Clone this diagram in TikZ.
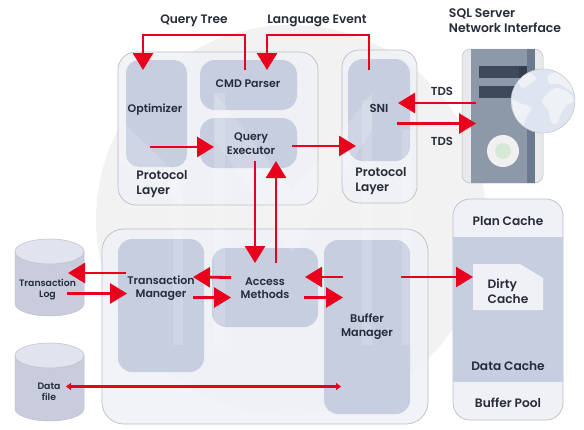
\documentclass[tikz,border=0pt]{standalone}
\usepackage{fontspec}
\setmainfont{Poppins SemiBold}
\usetikzlibrary{arrows.meta}
\definecolor{blk}{HTML}{262C3A}
\definecolor{bluebox}{HTML}{C7CEE0}
\definecolor{panelc}{HTML}{EFF1F6}
\definecolor{edgec}{HTML}{BDBEC3}
\definecolor{redc}{HTML}{E8001C}
\definecolor{srvbody}{HTML}{8D98A8}
\definecolor{srvstrip}{HTML}{6B7B8F}
\definecolor{srvbar}{HTML}{3D4A5C}
\definecolor{srvbard}{HTML}{333F50}
\definecolor{srvside}{HTML}{E8E9EB}
\definecolor{globec}{HTML}{DEE5F0}
\definecolor{landc}{HTML}{EEF1F6}
\definecolor{cyltop}{HTML}{E1E4EE}
\definecolor{cylbody}{HTML}{C8CCDD}
\tikzset{
 x=1pt,y=-1pt,
 panel/.style={draw=edgec,line width=.7pt,fill=panelc,fill opacity=.85,inner sep=0pt},
 boxn/.style={fill=bluebox,inner sep=0pt,text=blk},
 txt/.style={text=blk,font=\fontsize{12.2}{15}\selectfont,align=center,inner sep=0pt},
 txts/.style={text=blk,font=\fontsize{11}{13.5}\selectfont,align=center,inner sep=0pt},
 txtc/.style={text=blk,font=\fontsize{9.3}{11.5}\selectfont,align=center,inner sep=0pt},
 txtl/.style={text=blk,font=\fontsize{12.2}{15}\selectfont,align=left,inner sep=0pt},
 arr/.style={draw=redc,line width=2.8pt,-{Triangle[length=17pt,width=20pt,fill=redc]}},
 arrd/.style={draw=redc,line width=2.6pt,{Triangle[length=5pt,width=7pt,fill=redc]}-{Triangle[length=5pt,width=7pt,fill=redc]}},
}
\begin{document}
\begin{tikzpicture}
\useasboundingbox (0,0) rectangle (584,429);
\fill[white] (0,0) rectangle (584,429);
% background disc
\fill[fill=black!5] (291,220) circle[radius=195];
% panels
\node[panel,rounded corners=18pt,minimum width=200pt,minimum height=153pt] (p1) at (218,128.5) {};
\node[panel,rounded corners=17pt,minimum width=75pt,minimum height=153pt] (p2) at (379.5,126.5) {};
\node[panel,rounded corners=22pt,minimum width=326pt,minimum height=195pt] (p3) at (265,326.5) {};
% upper boxes
\node[boxn,rounded corners=13pt,minimum width=61pt,minimum height=107pt] (opt) at (156.5,113.5) {};
\node[boxn,rounded corners=15pt,minimum width=97pt,minimum height=50pt] (cmd) at (248.5,85) {};
\node[boxn,rounded corners=15pt,minimum width=97pt,minimum height=50pt] (exe) at (248.5,143) {};
\node[boxn,rounded corners=15pt,minimum width=62pt,minimum height=102pt] (sni) at (379,110) {};
% lower boxes
\node[boxn,rounded corners=14pt,minimum width=86pt,minimum height=133pt] (tm) at (161,305.5) {};
\node[boxn,rounded corners=14pt,minimum width=106pt,minimum height=79pt] (am) at (265,287.5) {};
\node[boxn,rounded corners=14pt,minimum width=86pt,minimum height=174pt] (bm) at (367,327) {};
% faint watermark
\begin{scope}[fill=white,fill opacity=.15]
\fill (173,170) rectangle (183,345);
\fill (214,93) rectangle (225,345);
\fill (362,100) rectangle (372,345);
\fill (402,130) rectangle (412,345);
\fill (215,93) -- (292,192) -- (372,93) -- (372,130) -- (292,253) -- (215,140) -- cycle;
\fill (120,120) -- (173,170) -- (183,205) -- (120,160) -- cycle;
\end{scope}
% labels in boxes
\node[txts] (optt) at (155,110) {Optimizer};
\node[txts] (cmdt) at (248,84) {CMD Parser};
\node[txts] (exet) at (251,143.5) {Query\\Executor};
\node[txts,font=\fontsize{11.6}{14}\selectfont] (snit) at (379,108) {SNI};
\node[txtl] (pl1) at (162,184) {Protocol\\Layer};
\node[txtl] (pl2) at (381,181) {Protocol\\Layer};
\node[txts] (tmt) at (161,288) {Transaction\\Manager};
\node[txts] (amt) at (265,288) {Access\\Methods};
\node[txts,font=\fontsize{11.2}{14}\selectfont] (bmt) at (367,327) {Buffer\\Manager};
% server
\node[fill=srvside,draw=edgec,line width=.5pt,rounded corners=8pt,inner sep=0pt,minimum width=81pt,minimum height=134pt] (srv) at (502.5,116) {};
\fill[fill=srvbody] (471,49.3) rectangle (535,182.7);
\fill[fill=srvstrip] (527,49.3) rectangle (535,182.7);
\fill[fill=srvbar] (479,66) rectangle (519,78);
\fill[fill=srvbard] (519,66) rectangle (527,78);
\fill[fill=srvbar] (479,86) rectangle (516,98);
\fill[fill=black!6] (503,151) circle[radius=16];
\fill[fill=green!30!gray!25] (503,151) circle[radius=8];
\fill[fill=globec] (543,101) circle[radius=32];
\begin{scope}
\clip (543,101) circle[radius=32];
\fill[landc] plot[smooth cycle] coordinates {(547,94) (556,88) (568,92) (574,100) (566,106) (561,114) (557,124) (551,122) (548,110) (542,102)};
\fill[landc] plot[smooth cycle] coordinates {(512,100) (520,103) (531,108) (526,118) (522,128) (516,120)};
\fill[landc] plot[smooth cycle] coordinates {(518,78) (528,72) (536,78) (530,84) (522,88)};
\fill[landc] plot[smooth cycle] coordinates {(548,76) (560,72) (572,82) (572,92) (560,84) (550,84)};
\end{scope}
\draw[edgec,line width=.4pt] (543,101) circle[radius=32];
% cylinders
\foreach \t/\b in {239/316,343/421}{
 \filldraw[fill=cylbody,draw=edgec,line width=.5pt] (15,\t+12.5) -- (15,\b-12.5) arc[start angle=180,end angle=360,x radius=34.5,y radius=-12.5] -- (84,\t+12.5);
 \filldraw[fill=cyltop,draw=edgec,line width=.5pt] (49.5,\t+12.5) ellipse[x radius=34.5,y radius=12.5];
}
\node[txtc] (tlog) at (47.5,289.5) {Transaction\\Log};
\node[txtc] (dfile) at (49,392) {Data\\file};
% buffer pool
\node[draw=edgec,fill=panelc,rounded corners=17pt,inner sep=0pt,line width=.7pt,minimum width=110pt,minimum height=221pt] (pool) at (508,309.5) {};
\fill[fill=bluebox] (453.4,237) rectangle (562.6,382);
\fill[fill=panelc] (473,264) -- (520,264) -- (543,278) -- (543,310) -- (473,310) -- cycle;
\node[txt] (pc) at (508,221.5) {Plan Cache};
\node[txtl] (dc) at (508,291) {Dirty\\Cache};
\node[txt] (dac) at (508,366) {Data Cache};
\node[txt] (bp) at (508,403) {Buffer Pool};
% titles
\node[txt] (qt) at (194,20.5) {Query Tree};
\node[txt] (le) at (317,20.5) {Language Event};
\node[txtl,font=\fontsize{12.4}{15}\selectfont] (ni) at (505,21) {SQL Server\\Network Interface};
\node[txts,font=\fontsize{11.6}{14}\selectfont] (tds1) at (442,91) {TDS};
\node[txts,font=\fontsize{11.6}{14}\selectfont] (tds2) at (442,141) {TDS};
% connectors
\coordinate (qtop) at (143,35);
\coordinate (ltop) at (267,35);
\draw[arr] ([shift={(-3.5,-15)}]cmd.center) |- (qtop) -- ([shift={(-13.5,-43.5)}]opt.center);
\draw[arr] ([shift={(-10,-40)}]sni.center) |- (ltop) -- ([shift={(18.5,-15)}]cmd.center);
\draw[arr] ([shift={(-6.5,33.5)}]opt.center) -- ([shift={(-34.5,4)}]exe.center);
\draw[arr] ([shift={(43.5,3)}]exe.center) -- ([shift={(-23,36)}]sni.center);
\draw[arr] ([shift={(6.5,18)}]exe.center) -- ([shift={(-10,-24.5)}]am.center);
\draw[arr] ([shift={(11,-24.5)}]am.center) -- ([shift={(27.5,18)}]exe.center);
\draw[arr] ([shift={(-26.5,-13)}]srv.center) -- ([shift={(19,-7)}]sni.center);
\draw[arr] ([shift={(18,13.5)}]sni.center) -- ([shift={(-26.5,7.5)}]srv.center);
\draw[arr] ([shift={(-35,-32.5)}]tm.center) -- ([shift={(20.5,-16.5)}]tlog.center);
\draw[arr] ([shift={(19.5,4)}]tlog.center) -- ([shift={(-34,-12)}]tm.center);
\draw[arr] ([shift={(-34,-10)}]am.center) -- ([shift={(32,-28.5)}]tm.center);
\draw[arr] ([shift={(32,-8)}]tm.center) -- ([shift={(-34,10)}]am.center);
\draw[arr] ([shift={(-24,-50)}]bm.center) -- ([shift={(40,-10.5)}]am.center);
\draw[arr] ([shift={(39,10)}]am.center) -- ([shift={(-24,-29.5)}]bm.center);
\draw[arr] ([shift={(34,-50)}]bm.center) -- ([shift={(-35,-14)}]dc.center);
\draw[arrd] ([shift={(17,-5.5)}]dfile.center) -- ([shift={(-26,59.5)}]bm.center);
\end{tikzpicture}
\end{document}
